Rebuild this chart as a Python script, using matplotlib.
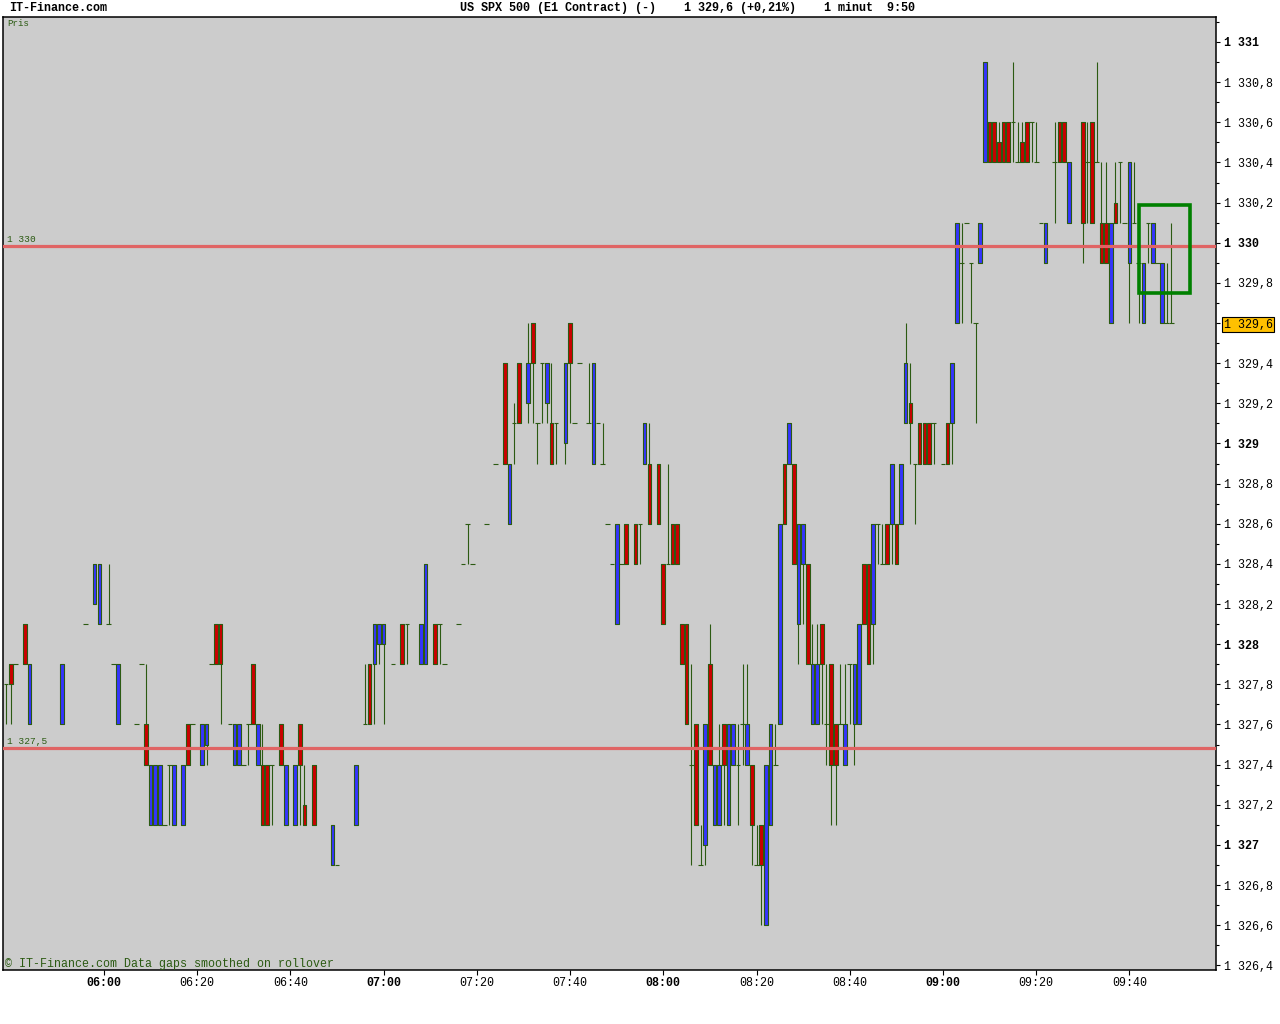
import matplotlib
matplotlib.use("Agg")
import matplotlib.pyplot as plt
import numpy as np
from matplotlib.collections import LineCollection, PolyCollection
from matplotlib.patches import Rectangle

plt.rcParams["font.family"] = ["Liberation Mono", "DejaVu Sans Mono"]

# one-minute bars, US SPX 500 (E1) -- minutes without trades are simply missing
times = [
    "05:39", "05:40", "05:41", "05:43", "05:44", "05:51", "05:56", "05:58", "05:59", "06:01",
    "06:02", "06:03", "06:07", "06:08", "06:09", "06:10", "06:11", "06:12", "06:13", "06:14",
    "06:15", "06:17", "06:18", "06:19", "06:21", "06:22", "06:23", "06:24", "06:25", "06:27",
    "06:28", "06:29", "06:30", "06:31", "06:32", "06:33", "06:34", "06:35", "06:36", "06:38",
    "06:39", "06:41", "06:42", "06:43", "06:45", "06:49", "06:50", "06:54", "06:56", "06:57",
    "06:58", "06:59", "07:00", "07:02", "07:04", "07:05", "07:08", "07:09", "07:11", "07:12",
    "07:13", "07:16", "07:17", "07:18", "07:19", "07:22", "07:24", "07:26", "07:27", "07:28",
    "07:29", "07:31", "07:32", "07:33", "07:34", "07:35", "07:36", "07:37", "07:39", "07:40",
    "07:41", "07:42", "07:44", "07:45", "07:46", "07:47", "07:48", "07:49", "07:50", "07:51",
    "07:52", "07:54", "07:55", "07:56", "07:57", "07:59", "08:00", "08:01", "08:02", "08:03",
    "08:04", "08:05", "08:06", "08:07", "08:08", "08:09", "08:10", "08:11", "08:12", "08:13",
    "08:14", "08:15", "08:16", "08:17", "08:18", "08:19", "08:20", "08:21", "08:22", "08:23",
    "08:24", "08:25", "08:26", "08:27", "08:28", "08:29", "08:30", "08:31", "08:32", "08:33",
    "08:34", "08:35", "08:36", "08:37", "08:38", "08:39", "08:40", "08:41", "08:42", "08:43",
    "08:44", "08:45", "08:46", "08:47", "08:48", "08:49", "08:50", "08:51", "08:52", "08:53",
    "08:54", "08:55", "08:56", "08:57", "08:58", "09:00", "09:01", "09:02", "09:03", "09:04",
    "09:05", "09:06", "09:07", "09:08", "09:09", "09:10", "09:11", "09:12", "09:13", "09:14",
    "09:15", "09:16", "09:17", "09:18", "09:19", "09:20", "09:21", "09:22", "09:24", "09:25",
    "09:26", "09:27", "09:30", "09:31", "09:32", "09:33", "09:34", "09:35", "09:36", "09:37",
    "09:38", "09:39", "09:40", "09:41", "09:42", "09:43", "09:44", "09:45", "09:46", "09:47",
    "09:48", "09:49",
]

opens = [
    1327.8, 1327.9, 1327.9, 1328.1, 1327.6, 1327.6, 1328.1, 1328.2, 1328.1, 1328.1,
    1327.9, 1327.6, 1327.6, 1327.9, 1327.6, 1327.1, 1327.1, 1327.1, 1327.1, 1327.4,
    1327.1, 1327.1, 1327.6, 1327.6, 1327.4, 1327.5, 1327.9, 1328.1, 1328.1, 1327.6,
    1327.4, 1327.4, 1327.4, 1327.6, 1327.9, 1327.4, 1327.4, 1327.4, 1327.4, 1327.6,
    1327.1, 1327.1, 1327.6, 1327.2, 1327.4, 1326.9, 1326.9, 1327.1, 1327.6, 1327.9,
    1327.9, 1328.0, 1328.0, 1327.9, 1328.1, 1328.1, 1327.9, 1327.9, 1328.1, 1328.1,
    1327.9, 1328.1, 1328.4, 1328.6, 1328.4, 1328.6, 1328.9, 1329.4, 1328.6, 1329.1,
    1329.4, 1329.2, 1329.6, 1329.1, 1329.4, 1329.2, 1329.1, 1329.1, 1329.0, 1329.6,
    1329.1, 1329.4, 1329.1, 1328.9, 1329.1, 1328.9, 1328.6, 1328.4, 1328.1, 1328.4,
    1328.6, 1328.6, 1328.6, 1328.9, 1328.9, 1328.9, 1328.4, 1328.4, 1328.6, 1328.6,
    1328.1, 1328.1, 1327.4, 1327.6, 1326.9, 1327.0, 1327.9, 1327.1, 1327.1, 1327.6,
    1327.1, 1327.4, 1327.4, 1327.6, 1327.4, 1327.4, 1326.9, 1327.1, 1326.6, 1327.1,
    1327.4, 1327.6, 1328.9, 1328.9, 1328.9, 1328.1, 1328.4, 1328.4, 1327.6, 1327.6,
    1328.1, 1327.6, 1327.9, 1327.6, 1327.6, 1327.4, 1327.9, 1327.6, 1327.6, 1328.4,
    1328.4, 1328.1, 1328.6, 1328.4, 1328.6, 1328.6, 1328.6, 1328.6, 1329.1, 1329.2,
    1328.9, 1329.1, 1329.1, 1329.1, 1329.1, 1328.9, 1329.1, 1329.1, 1329.6, 1329.9,
    1330.1, 1329.9, 1329.6, 1329.9, 1330.4, 1330.6, 1330.6, 1330.5, 1330.6, 1330.6,
    1330.6, 1330.4, 1330.5, 1330.6, 1330.6, 1330.4, 1330.1, 1329.9, 1330.4, 1330.6,
    1330.6, 1330.1, 1330.6, 1330.4, 1330.6, 1330.4, 1330.1, 1330.1, 1329.6, 1330.2,
    1330.4, 1330.1, 1329.9, 1330.1, 1329.9, 1329.6, 1330.1, 1329.9, 1329.9, 1329.6,
    1329.6, 1329.6,
]

highs = [
    1327.8, 1327.9, 1327.9, 1328.1, 1327.9, 1327.9, 1328.1, 1328.4, 1328.4, 1328.4,
    1327.9, 1327.9, 1327.6, 1327.9, 1327.9, 1327.4, 1327.4, 1327.4, 1327.1, 1327.4,
    1327.4, 1327.4, 1327.6, 1327.6, 1327.6, 1327.6, 1327.9, 1328.1, 1328.1, 1327.6,
    1327.6, 1327.6, 1327.4, 1327.6, 1327.9, 1327.6, 1327.6, 1327.4, 1327.4, 1327.6,
    1327.4, 1327.4, 1327.6, 1327.4, 1327.4, 1327.1, 1326.9, 1327.4, 1327.9, 1327.9,
    1328.1, 1328.1, 1328.1, 1327.9, 1328.1, 1328.1, 1328.1, 1328.4, 1328.1, 1328.1,
    1327.9, 1328.1, 1328.4, 1328.6, 1328.4, 1328.6, 1328.9, 1329.4, 1328.9, 1329.2,
    1329.4, 1329.6, 1329.6, 1329.1, 1329.4, 1329.4, 1329.4, 1329.1, 1329.4, 1329.6,
    1329.1, 1329.4, 1329.4, 1329.4, 1329.1, 1329.1, 1328.6, 1328.4, 1328.6, 1328.4,
    1328.6, 1328.6, 1328.6, 1329.1, 1329.1, 1328.9, 1328.4, 1328.9, 1328.6, 1328.6,
    1328.1, 1328.1, 1327.9, 1327.6, 1327.1, 1327.6, 1328.1, 1327.4, 1327.6, 1327.6,
    1327.6, 1327.6, 1327.6, 1327.9, 1327.9, 1327.4, 1327.1, 1327.1, 1327.4, 1327.6,
    1327.6, 1328.6, 1328.9, 1329.1, 1328.9, 1328.6, 1328.6, 1328.4, 1328.1, 1328.1,
    1328.1, 1327.9, 1327.9, 1327.6, 1327.9, 1327.9, 1327.9, 1327.9, 1328.1, 1328.4,
    1328.4, 1328.6, 1328.6, 1328.6, 1328.6, 1328.9, 1328.6, 1328.9, 1329.6, 1329.4,
    1328.9, 1329.1, 1329.1, 1329.1, 1329.1, 1328.9, 1329.1, 1329.4, 1330.1, 1330.1,
    1330.1, 1329.9, 1329.6, 1330.1, 1330.9, 1330.6, 1330.6, 1330.6, 1330.6, 1330.6,
    1330.9, 1330.6, 1330.6, 1330.6, 1330.6, 1330.6, 1330.1, 1330.1, 1330.6, 1330.6,
    1330.6, 1330.4, 1330.6, 1330.6, 1330.6, 1330.9, 1330.4, 1330.4, 1330.1, 1330.4,
    1330.4, 1330.1, 1330.4, 1330.4, 1329.9, 1329.9, 1330.1, 1330.1, 1329.9, 1329.9,
    1329.9, 1330.1,
]

lows = [
    1327.6, 1327.6, 1327.9, 1327.9, 1327.6, 1327.6, 1328.1, 1328.2, 1328.1, 1328.1,
    1327.9, 1327.6, 1327.6, 1327.9, 1327.4, 1327.1, 1327.1, 1327.1, 1327.1, 1327.1,
    1327.1, 1327.1, 1327.4, 1327.6, 1327.4, 1327.4, 1327.9, 1327.9, 1327.6, 1327.6,
    1327.4, 1327.4, 1327.4, 1327.4, 1327.6, 1327.4, 1327.1, 1327.1, 1327.1, 1327.4,
    1327.1, 1327.1, 1327.1, 1327.1, 1327.1, 1326.9, 1326.9, 1327.1, 1327.6, 1327.6,
    1327.6, 1327.9, 1327.6, 1327.9, 1327.9, 1327.9, 1327.9, 1327.9, 1327.9, 1327.9,
    1327.9, 1328.1, 1328.4, 1328.4, 1328.4, 1328.6, 1328.9, 1328.9, 1328.6, 1328.9,
    1329.1, 1329.1, 1329.1, 1328.9, 1329.1, 1329.1, 1328.9, 1328.9, 1328.9, 1329.1,
    1329.1, 1329.4, 1329.1, 1328.9, 1329.1, 1328.9, 1328.6, 1328.4, 1328.1, 1328.4,
    1328.4, 1328.4, 1328.4, 1328.9, 1328.6, 1328.6, 1328.1, 1328.4, 1328.4, 1328.4,
    1327.9, 1327.6, 1326.9, 1327.1, 1326.9, 1326.9, 1327.4, 1327.1, 1327.1, 1327.1,
    1327.1, 1327.4, 1327.1, 1327.4, 1327.4, 1326.9, 1326.9, 1326.6, 1326.6, 1327.1,
    1327.4, 1327.6, 1328.6, 1328.9, 1328.4, 1327.9, 1328.1, 1327.9, 1327.6, 1327.6,
    1327.6, 1327.4, 1327.1, 1327.1, 1327.6, 1327.4, 1327.6, 1327.4, 1327.6, 1328.1,
    1327.9, 1327.9, 1328.4, 1328.4, 1328.4, 1328.4, 1328.4, 1328.6, 1329.1, 1328.9,
    1328.6, 1328.9, 1328.9, 1328.9, 1328.9, 1328.9, 1328.9, 1328.9, 1329.6, 1329.6,
    1330.1, 1329.6, 1329.1, 1329.9, 1330.4, 1330.4, 1330.4, 1330.4, 1330.4, 1330.4,
    1330.4, 1330.4, 1330.4, 1330.4, 1330.4, 1330.4, 1330.1, 1329.9, 1330.1, 1330.4,
    1330.4, 1330.1, 1329.9, 1330.1, 1330.1, 1330.4, 1329.9, 1329.9, 1329.6, 1330.1,
    1330.1, 1330.1, 1329.6, 1330.1, 1329.6, 1329.6, 1329.9, 1329.9, 1329.9, 1329.6,
    1329.6, 1329.6,
]

closes = [
    1327.8, 1327.8, 1327.9, 1327.9, 1327.9, 1327.9, 1328.1, 1328.4, 1328.4, 1328.1,
    1327.9, 1327.9, 1327.6, 1327.9, 1327.4, 1327.4, 1327.4, 1327.4, 1327.1, 1327.4,
    1327.4, 1327.4, 1327.4, 1327.6, 1327.6, 1327.6, 1327.9, 1327.9, 1327.9, 1327.6,
    1327.6, 1327.6, 1327.4, 1327.6, 1327.6, 1327.6, 1327.1, 1327.1, 1327.4, 1327.4,
    1327.4, 1327.4, 1327.4, 1327.1, 1327.1, 1327.1, 1326.9, 1327.4, 1327.6, 1327.6,
    1328.1, 1328.1, 1328.1, 1327.9, 1327.9, 1328.1, 1328.1, 1328.4, 1327.9, 1328.1,
    1327.9, 1328.1, 1328.4, 1328.6, 1328.4, 1328.6, 1328.9, 1328.9, 1328.9, 1329.1,
    1329.1, 1329.4, 1329.4, 1329.1, 1329.4, 1329.4, 1328.9, 1329.1, 1329.4, 1329.4,
    1329.1, 1329.4, 1329.1, 1329.4, 1329.1, 1328.9, 1328.6, 1328.4, 1328.6, 1328.4,
    1328.4, 1328.4, 1328.6, 1329.1, 1328.6, 1328.6, 1328.1, 1328.4, 1328.4, 1328.4,
    1327.9, 1327.6, 1327.4, 1327.1, 1326.9, 1327.6, 1327.4, 1327.4, 1327.4, 1327.4,
    1327.6, 1327.6, 1327.4, 1327.6, 1327.6, 1327.1, 1326.9, 1326.9, 1327.4, 1327.6,
    1327.4, 1328.6, 1328.6, 1329.1, 1328.4, 1328.6, 1328.6, 1327.9, 1327.9, 1327.9,
    1327.9, 1327.6, 1327.4, 1327.4, 1327.6, 1327.6, 1327.9, 1327.9, 1328.1, 1328.1,
    1327.9, 1328.6, 1328.6, 1328.4, 1328.4, 1328.9, 1328.4, 1328.9, 1329.4, 1329.1,
    1328.9, 1328.9, 1328.9, 1328.9, 1329.1, 1328.9, 1328.9, 1329.4, 1330.1, 1329.9,
    1330.1, 1329.9, 1329.6, 1330.1, 1330.9, 1330.4, 1330.4, 1330.4, 1330.4, 1330.4,
    1330.6, 1330.4, 1330.4, 1330.4, 1330.6, 1330.4, 1330.1, 1330.1, 1330.4, 1330.4,
    1330.4, 1330.4, 1330.1, 1330.4, 1330.1, 1330.4, 1329.9, 1329.9, 1330.1, 1330.1,
    1330.4, 1330.1, 1330.4, 1330.1, 1329.9, 1329.9, 1330.1, 1330.1, 1329.9, 1329.9,
    1329.6, 1329.6,
]

ref_levels = [1330.0, 1327.5]
ref_labels = ["1 330", "1 327,5"]
last_price = 1329.6

# the hand-drawn green box at the right edge
box_times = ["09:42", "09:53"]
box_prices = [1329.75, 1330.19]

x_ticks = ["06:00", "06:20", "06:40", "07:00", "07:20", "07:40",
           "08:00", "08:20", "08:40", "09:00", "09:20", "09:40"]

GREEN = "#2b5a12"
BLUE = "#3434ff"
RED = "#cc0000"
BG = "#cccccc"


def to_min(t):
    hh, mm = t.split(":")
    return int(hh) * 60 + int(mm) - 360  # minutes after 06:00


def fmt_price(v):
    s = f"{v:.1f}"
    whole, dec = s.split(".")
    whole = f"{int(whole):,}".replace(",", " ")
    return whole if dec == "0" else f"{whole},{dec}"


x = np.array([to_min(t) for t in times], dtype=float)
o = np.array(opens)
h = np.array(highs)
lo = np.array(lows)
c = np.array(closes)

fig = plt.figure(figsize=(12.8, 10.24), dpi=100)
ax = fig.add_axes([3 / 1280, 1 - 970 / 1024, 1213 / 1280, 953 / 1024])
ax.set_facecolor(BG)
ax.set_xlim(-21.67, 238.58)
ax.set_ylim(1326.377, 1331.1245)

half = 0.39
lw = 0.8

# wicks
wick_idx = np.where(h > lo)[0]
wicks = [[(x[i], lo[i]), (x[i], h[i])] for i in wick_idx]
ax.add_collection(LineCollection(wicks, colors=GREEN, linewidths=lw, zorder=2))

# bodies
body_idx = np.where(np.abs(c - o) > 1e-9)[0]
polys, fcs = [], []
for i in body_idx:
    b0, b1 = min(o[i], c[i]), max(o[i], c[i])
    polys.append([(x[i] - half, b0), (x[i] + half, b0), (x[i] + half, b1), (x[i] - half, b1)])
    fcs.append(BLUE if c[i] > o[i] else RED)
ax.add_collection(PolyCollection(polys, facecolors=fcs, edgecolors=GREEN, linewidths=lw,
                                 zorder=3))

# open == close: short horizontal tick
flat_idx = np.where(np.abs(c - o) <= 1e-9)[0]
ticks = [[(x[i] - 0.5, o[i]), (x[i] + 0.5, o[i])] for i in flat_idx]
ax.add_collection(LineCollection(ticks, colors=GREEN, linewidths=lw, zorder=3))

# reference lines
for lvl, lab in zip(ref_levels, ref_labels):
    ax.axhline(lvl - 0.016, color="#e06464", lw=2.3, zorder=4)
    ax.annotate(lab, xy=(0.0033, lvl - 0.016), xycoords=("axes fraction", "data"),
                xytext=(0, 2.5), textcoords="offset points", va="baseline", ha="left",
                fontsize=6.8, color=GREEN, zorder=5)

# highlight box
bx0, bx1 = to_min(box_times[0]), to_min(box_times[1])
ax.add_patch(Rectangle((bx0, box_prices[0]), bx1 - bx0, box_prices[1] - box_prices[0],
                       fill=False, edgecolor="#008000", lw=2.6, zorder=6))

# y axis on the right
yt = np.round(np.arange(1326.4, 1331.01, 0.2), 1)
ax.yaxis.tick_right()
ax.set_yticks(yt)
ax.set_yticklabels([fmt_price(v) for v in yt])
ax.set_yticks(np.round(np.arange(1326.4, 1331.11, 0.1), 1), minor=True)
ax.tick_params(axis="y", which="major", direction="out", length=3.2, width=0.8,
               pad=2.2, labelsize=8.4, colors="black")
ax.tick_params(axis="y", which="minor", direction="out", length=1.8, width=0.8)
for v, lab in zip(yt, ax.get_yticklabels()):
    if abs(v - round(v)) < 1e-6:
        lab.set_fontweight("bold")
    if abs(v - last_price) < 1e-6:
        lab.set_bbox(dict(facecolor="#ffc000", edgecolor="black", pad=1.2, linewidth=0.8))

# x axis
ax.set_xticks([to_min(t) for t in x_ticks])
ax.set_xticklabels(x_ticks)
ax.tick_params(axis="x", which="major", direction="out", length=3.6, width=0.8,
               pad=1.5, labelsize=8.4)
for t, lab in zip(x_ticks, ax.get_xticklabels()):
    if t.endswith(":00"):
        lab.set_fontweight("bold")

for sp in ax.spines.values():
    sp.set_color("black")
    sp.set_linewidth(1.1)

ax.text(0.0033, 0.998, "Pris", transform=ax.transAxes, ha="left", va="top",
        fontsize=6.6, color=GREEN)
ax.text(0.0017, 0.0065, "\u00a9 IT-Finance.com Data gaps smoothed on rollover",
        transform=ax.transAxes, ha="left", va="center", fontsize=8.4, color=GREEN)

fig.text(9 / 1280, 1 - 8 / 1024, "IT-Finance.com", ha="left", va="center",
         fontsize=8.5, fontweight="bold")
fig.text(460 / 1280, 1 - 8 / 1024,
         "US SPX 500 (E1 Contract) (-)    1 329,6 (+0,21%)    1 minut  9:50",
         ha="left", va="center", fontsize=8.5, fontweight="bold")

fig.savefig("out.png", dpi=100, facecolor="white")
